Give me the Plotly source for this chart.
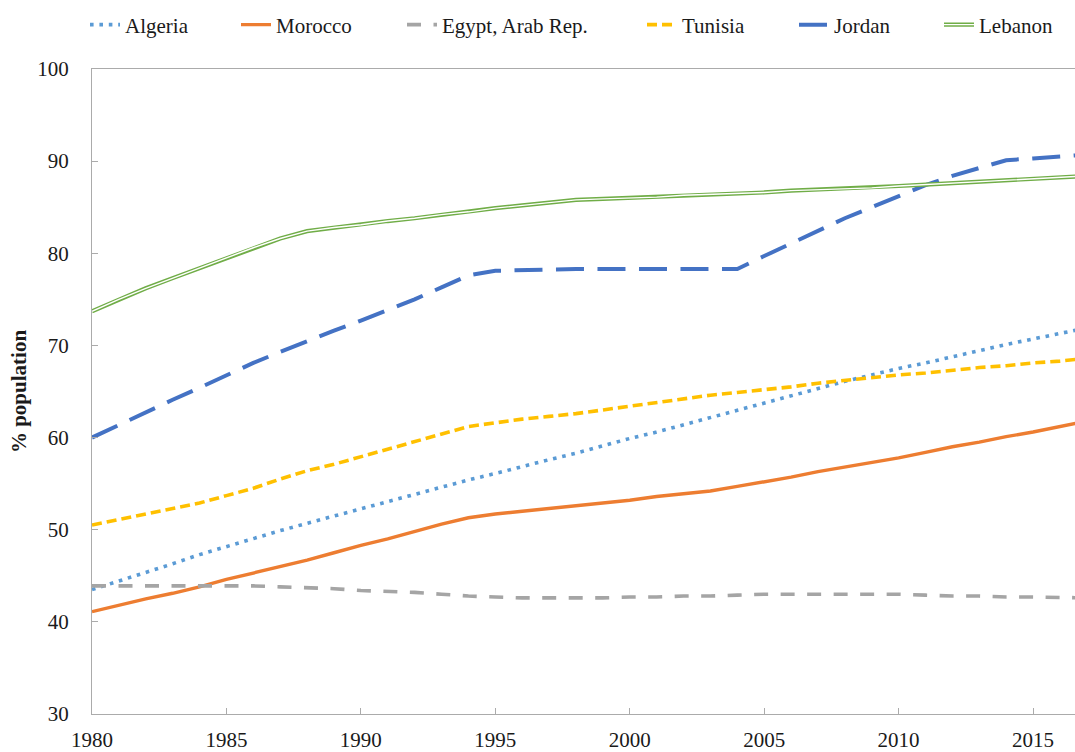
import plotly.graph_objects as go

years = list(range(1980, 2018))

algeria = [43.5, 44.4, 45.4, 46.3, 47.3, 48.2, 49.1, 49.9, 50.7, 51.5,
           52.3, 53.1, 53.9, 54.6, 55.4, 56.1, 56.9, 57.6, 58.3, 59.1,
           59.9, 60.6, 61.4, 62.1, 62.9, 63.7, 64.5, 65.3, 66.1, 66.8,
           67.5, 68.1, 68.8, 69.4, 70.1, 70.7, 71.3, 71.9]
morocco = [41.1, 41.8, 42.5, 43.1, 43.8, 44.6, 45.3, 46.0, 46.7, 47.5,
           48.3, 49.0, 49.8, 50.6, 51.3, 51.7, 52.0, 52.3, 52.6, 52.9,
           53.2, 53.6, 53.9, 54.2, 54.7, 55.2, 55.7, 56.3, 56.8, 57.3,
           57.8, 58.4, 59.0, 59.5, 60.1, 60.6, 61.2, 61.8]
egypt = [43.9, 43.9, 43.9, 43.9, 43.9, 43.9, 43.9, 43.8, 43.7, 43.6,
         43.4, 43.3, 43.2, 43.0, 42.8, 42.7, 42.6, 42.6, 42.6, 42.6,
         42.7, 42.7, 42.8, 42.8, 42.9, 43.0, 43.0, 43.0, 43.0, 43.0,
         43.0, 42.9, 42.8, 42.8, 42.7, 42.7, 42.6, 42.6]
tunisia = [50.5, 51.1, 51.7, 52.3, 52.9, 53.7, 54.5, 55.5, 56.4, 57.1,
           57.9, 58.7, 59.5, 60.4, 61.2, 61.6, 62.0, 62.3, 62.6, 63.0,
           63.4, 63.8, 64.2, 64.6, 64.9, 65.2, 65.5, 65.9, 66.2, 66.5,
           66.8, 67.0, 67.3, 67.6, 67.8, 68.1, 68.3, 68.6]
jordan = [60.0, 61.4, 62.7, 64.1, 65.4, 66.8, 68.1, 69.3, 70.5, 71.6,
          72.7, 73.8, 75.0, 76.3, 77.6, 78.1, 78.2, 78.2, 78.3, 78.3,
          78.3, 78.3, 78.3, 78.3, 78.3, 79.7, 81.1, 82.5, 83.8, 85.0,
          86.2, 87.4, 88.4, 89.3, 90.1, 90.3, 90.5, 90.7]
lebanon = [73.7, 75.0, 76.2, 77.3, 78.4, 79.5, 80.6, 81.6, 82.4, 82.8,
           83.1, 83.5, 83.8, 84.2, 84.5, 84.9, 85.2, 85.5, 85.8, 85.9,
           86.0, 86.1, 86.3, 86.4, 86.5, 86.6, 86.8, 86.9, 87.0, 87.1,
           87.3, 87.45, 87.6, 87.8, 87.9, 88.1, 88.25, 88.4]

x_ticks = [1980, 1985, 1990, 1995, 2000, 2005, 2010, 2015]
y_ticks = [30, 40, 50, 60, 70, 80, 90, 100]

FONT = "Liberation Serif, Times New Roman, serif"
W, H = 1075, 752
FS = 21

fig = go.Figure()

series = [
    ("Algeria", algeria, "#5B9BD5", 3.6, "3.6px,5.8px", "legend"),
    ("Morocco", morocco, "#ED7D31", 3.4, "solid", "legend2"),
    ("Egypt, Arab Rep.", egypt, "#A5A5A5", 3.6, "14px,12.5px", "legend3"),
    ("Tunisia", tunisia, "#FFC000", 3.6, "10px,5px", "legend4"),
    ("Jordan", jordan, "#4472C4", 4.0, "28px,13.5px", "legend5"),
]
for name, vals, color, w, dash, leg in series:
    fig.add_trace(go.Scatter(x=years, y=vals, mode="lines", name=name,
                             line=dict(color=color, width=w, dash=dash),
                             legend=leg, hoverinfo="skip"))

# Lebanon: double line (green outer, white core)
fig.add_trace(go.Scatter(x=years, y=lebanon, mode="lines", name="Lebanon",
                         line=dict(color="#70AD47", width=4.2), legend="legend6",
                         hoverinfo="skip"))
fig.add_trace(go.Scatter(x=years, y=lebanon, mode="lines", name=" ",
                         line=dict(color="white", width=1.4), legend="legend7",
                         hoverinfo="skip"))

text_starts = {"legend": 125, "legend2": 276, "legend3": 442,
               "legend4": 682, "legend5": 834, "legend6": 979, "legend7": 979}
leg_layout = {}
for key, tx in text_starts.items():
    leg_layout[key] = dict(
        xref="container", yref="container",
        x=(tx - 40) / W, y=1 - 25 / H, xanchor="left", yanchor="middle",
        orientation="h", bgcolor="rgba(0,0,0,0)", borderwidth=0,
        font=dict(family=FONT, size=FS, color="#1a1a1a"),
    )

fig.update_layout(
    width=W, height=H,
    margin=dict(l=92, r=0, t=69, b=35),
    paper_bgcolor="white", plot_bgcolor="white",
    showlegend=True,
    xaxis=dict(range=[1980, 2016.56], tickvals=x_ticks,
               ticktext=[str(v) for v in x_ticks],
               showgrid=False, zeroline=False,
               showline=True, linecolor="#ABABAB", linewidth=1.3, mirror=True,
               ticks="inside", ticklen=6, tickcolor="#ABABAB",
               tickfont=dict(family=FONT, size=FS, color="#1a1a1a"),
               ticklabelstandoff=7),
    yaxis=dict(range=[30, 100], tickvals=y_ticks,
               showgrid=False, zeroline=False,
               showline=True, linecolor="#ABABAB", linewidth=1.3,
               ticks="inside", ticklen=6, tickcolor="#ABABAB",
               tickfont=dict(family=FONT, size=FS, color="#1a1a1a"),
               ticklabelstandoff=18,
               title=dict(text="<b>% population</b>", standoff=4,
                          font=dict(family=FONT, size=FS, color="#1a1a1a"))),
    **leg_layout,
)

fig.write_html(
    "out.html",
    config={"displayModeBar": False},
    post_script="document.body.style.margin='0';document.body.style.overflow='hidden';",
)
